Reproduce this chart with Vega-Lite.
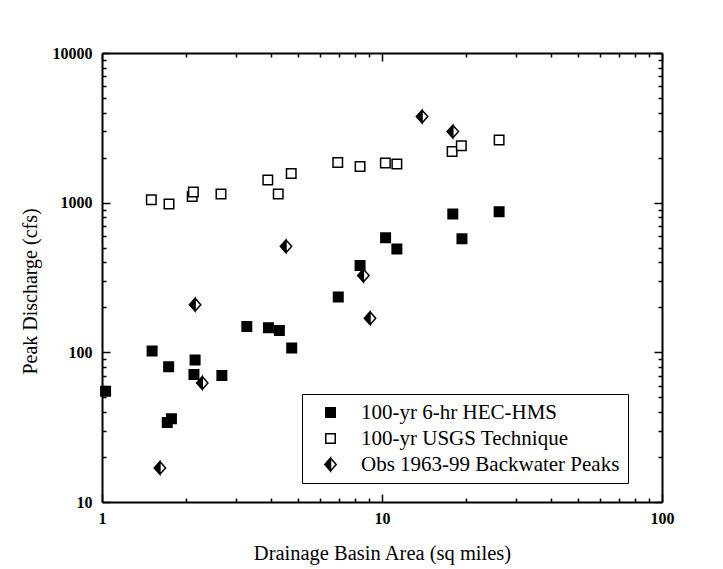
{
  "$schema": "https://vega.github.io/schema/vega-lite/v6.json",
  "width": 560,
  "height": 449,
  "autosize": {"type": "none"},
  "padding": {"left": 102, "top": 53, "right": 61, "bottom": 67},
  "background": "white",
  "data": {
    "values": [
      {"a": 1.03, "q": 55, "s": "100-yr 6-hr HEC-HMS"},
      {"a": 1.51, "q": 102, "s": "100-yr 6-hr HEC-HMS"},
      {"a": 1.73, "q": 80, "s": "100-yr 6-hr HEC-HMS"},
      {"a": 1.71, "q": 34, "s": "100-yr 6-hr HEC-HMS"},
      {"a": 1.77, "q": 36, "s": "100-yr 6-hr HEC-HMS"},
      {"a": 2.15, "q": 89, "s": "100-yr 6-hr HEC-HMS"},
      {"a": 2.13, "q": 71, "s": "100-yr 6-hr HEC-HMS"},
      {"a": 2.68, "q": 70, "s": "100-yr 6-hr HEC-HMS"},
      {"a": 3.29, "q": 149, "s": "100-yr 6-hr HEC-HMS"},
      {"a": 3.93, "q": 146, "s": "100-yr 6-hr HEC-HMS"},
      {"a": 4.3, "q": 140, "s": "100-yr 6-hr HEC-HMS"},
      {"a": 4.76, "q": 107, "s": "100-yr 6-hr HEC-HMS"},
      {"a": 6.98, "q": 234, "s": "100-yr 6-hr HEC-HMS"},
      {"a": 8.35, "q": 380, "s": "100-yr 6-hr HEC-HMS"},
      {"a": 10.3, "q": 582, "s": "100-yr 6-hr HEC-HMS"},
      {"a": 11.3, "q": 491, "s": "100-yr 6-hr HEC-HMS"},
      {"a": 17.9, "q": 841, "s": "100-yr 6-hr HEC-HMS"},
      {"a": 19.3, "q": 573, "s": "100-yr 6-hr HEC-HMS"},
      {"a": 26.2, "q": 871, "s": "100-yr 6-hr HEC-HMS"},
      {"a": 1.5, "q": 1047, "s": "100-yr USGS Technique"},
      {"a": 1.735, "q": 980, "s": "100-yr USGS Technique"},
      {"a": 2.1, "q": 1100, "s": "100-yr USGS Technique"},
      {"a": 2.12, "q": 1180, "s": "100-yr USGS Technique"},
      {"a": 2.66, "q": 1143, "s": "100-yr USGS Technique"},
      {"a": 3.91, "q": 1416, "s": "100-yr USGS Technique"},
      {"a": 4.26, "q": 1143, "s": "100-yr USGS Technique"},
      {"a": 4.74, "q": 1567, "s": "100-yr USGS Technique"},
      {"a": 6.95, "q": 1856, "s": "100-yr USGS Technique"},
      {"a": 8.35, "q": 1746, "s": "100-yr USGS Technique"},
      {"a": 10.28, "q": 1840, "s": "100-yr USGS Technique"},
      {"a": 11.3, "q": 1811, "s": "100-yr USGS Technique"},
      {"a": 17.8, "q": 2198, "s": "100-yr USGS Technique"},
      {"a": 19.2, "q": 2399, "s": "100-yr USGS Technique"},
      {"a": 26.2, "q": 2620, "s": "100-yr USGS Technique"},
      {"a": 1.61, "q": 16.9, "s": "Obs 1963-99 Backwater Peaks"},
      {"a": 2.15, "q": 208, "s": "Obs 1963-99 Backwater Peaks"},
      {"a": 2.28, "q": 62.4, "s": "Obs 1963-99 Backwater Peaks"},
      {"a": 4.54, "q": 511, "s": "Obs 1963-99 Backwater Peaks"},
      {"a": 8.58, "q": 326, "s": "Obs 1963-99 Backwater Peaks"},
      {"a": 9.06, "q": 169, "s": "Obs 1963-99 Backwater Peaks"},
      {"a": 13.9, "q": 3758, "s": "Obs 1963-99 Backwater Peaks"},
      {"a": 17.9, "q": 2985, "s": "Obs 1963-99 Backwater Peaks"}
    ]
  },
  "layer": [
    {
      "mark": {"type": "point", "filled": true, "stroke": "black", "strokeWidth": 1.5, "size": 90, "opacity": 1},
      "encoding": {
        "x": {
          "field": "a", "type": "quantitative",
          "scale": {"type": "log", "domain": [1, 100], "nice": false},
          "axis": {
            "orient": "bottom",
            "title": "Drainage Basin Area (sq miles)",
            "titleFontSize": 20.5,
            "values": [1,2,3,4,5,6,7,8,9,10,20,30,40,50,60,70,80,90,100],
            "labelExpr": "indexof([1,10,100], datum.value) >= 0 ? '' + datum.value : ''",
            "tickSize": {"condition": {"test": "indexof([1,10,100], datum.value) >= 0", "value": -8}, "value": -4},
            "labelPadding": 16,
            "titlePadding": 13
          }
        },
        "y": {
          "field": "q", "type": "quantitative",
          "scale": {"type": "log", "domain": [10, 10000], "nice": false},
          "axis": {
            "orient": "left",
            "title": "Peak Discharge (cfs)",
            "titleFontSize": 20,
            "titleY": 238,
            "values": [10,20,30,40,50,60,70,80,90,100,200,300,400,500,600,700,800,900,1000,2000,3000,4000,5000,6000,7000,8000,9000,10000],
            "labelExpr": "indexof([10,100,1000,10000], datum.value) >= 0 ? '' + datum.value : ''",
            "tickSize": {"condition": {"test": "indexof([10,100,1000,10000], datum.value) >= 0", "value": -8}, "value": -4},
            "labelPadding": 18,
            "titlePadding": 12
          }
        },
        "shape": {
          "field": "s", "type": "nominal",
          "scale": {
            "domain": ["100-yr 6-hr HEC-HMS", "100-yr USGS Technique", "Obs 1963-99 Backwater Peaks"],
            "range": ["square", "square", "M0,-1.35L-1.2,0L0,1.35Z M0,-1.35L1.2,0L0,1.35L1.2,0Z"]
          },
          "legend": {
            "title": null,
            "orient": "none",
            "legendX": 200,
            "legendY": 341
          }
        },
        "color": {
          "field": "s", "type": "nominal",
          "scale": {
            "domain": ["100-yr 6-hr HEC-HMS", "100-yr USGS Technique", "Obs 1963-99 Backwater Peaks"],
            "range": ["black", "white", "black"]
          },
          "legend": {
            "title": null,
            "orient": "none",
            "legendX": 200,
            "legendY": 341
          }
        }
      }
    },
    {
      "mark": {"type": "point", "opacity": 0},
      "encoding": {
        "x": {
          "field": "a", "type": "quantitative",
          "scale": {"type": "log", "domain": [1, 100], "nice": false},
          "axis": {
            "orient": "top",
            "title": null,
            "labels": false,
            "values": [1,2,3,4,5,6,7,8,9,10,20,30,40,50,60,70,80,90,100],
            "tickSize": {"condition": {"test": "indexof([1,10,100], datum.value) >= 0", "value": -8}, "value": -4}
          }
        },
        "y": {
          "field": "q", "type": "quantitative",
          "scale": {"type": "log", "domain": [10, 10000], "nice": false},
          "axis": {
            "orient": "right",
            "title": null,
            "labels": false,
            "values": [10,20,30,40,50,60,70,80,90,100,200,300,400,500,600,700,800,900,1000,2000,3000,4000,5000,6000,7000,8000,9000,10000],
            "tickSize": {"condition": {"test": "indexof([10,100,1000,10000], datum.value) >= 0", "value": -8}, "value": -4}
          }
        }
      }
    }
  ],
  "resolve": {"axis": {"x": "independent", "y": "independent"}},
  "config": {
    "view": {"stroke": null},
    "legend": {
      "strokeColor": "black",
      "fillColor": "white",
      "padding": 8,
      "rowPadding": 4,
      "labelFont": "Liberation Serif",
      "labelFontSize": 21,
      "labelColor": "black",
      "labelOffset": 20,
      "labelLimit": 400,
      "symbolSize": 90,
      "symbolStrokeColor": "black",
      "symbolStrokeWidth": 1.5,
      "symbolOffset": 10
    },
    "axis": {
      "grid": false,
      "domainColor": "black",
      "domainWidth": 2,
      "tickColor": "black",
      "tickWidth": 1.5,
      "labelFont": "Liberation Serif",
      "labelFontSize": 16,
      "labelFontWeight": "bold",
      "labelColor": "black",
      "labelFlush": false,
      "labelOverlap": false,
      "titleFont": "Liberation Serif",
      "titleFontWeight": "normal",
      "titleColor": "black"
    }
  }
}
